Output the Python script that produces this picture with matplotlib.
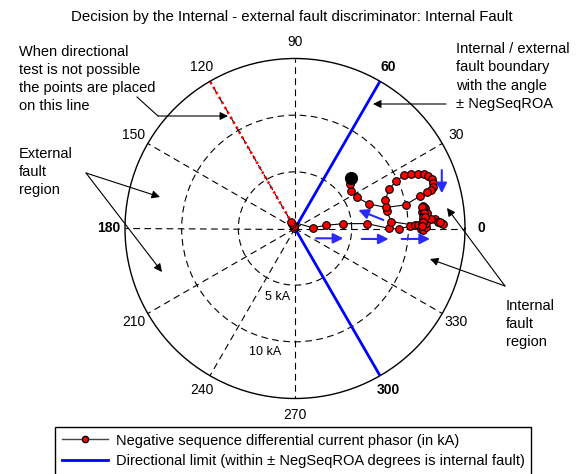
import numpy as np
import matplotlib
matplotlib.use("Agg")
import matplotlib.pyplot as plt
from matplotlib.lines import Line2D
from matplotlib.patches import FancyArrowPatch

plt.rcParams['font.family'] = ['Liberation Sans', 'DejaVu Sans']

W, H = 576, 474

# negative sequence differential current phasor: angle (deg), magnitude (kA)
phasor_angle = [120, 120, 120, 120,
                2.6, 5.9, 5.7, 3.9, 0.1, -0.3, 1.3, 1.7, 1.6,
                0.0, -0.5, 1.0, 2.0, 3.0, 4.0, 5.0, 6.0, 7.0, 8.0, 9.0, 10.0,
                7.5, 5.5, 3.5, 1.5, 0.5, 2.5, 4.5, 6.5, 8.5, 9.5, 7.0, 5.0, 3.0,
                3.9, 2.8, 2.1, 1.6, 2.5, 4.0, 5.0, 3.0, 1.0,
                4.1, 10.5, 17.3, 22.6, 25.1, 26.0, 24.9, 23.7, 22.7, 21.5,
                19.8, 18.3, 16.9, 16.0, 15.6, 14.5, 12.1, 13.0,
                18.3, 26.8, 34.0, 39.1, 41.6, 41.9, 41.3, 42.0]
phasor_mag = [0.1, 0.25, 0.5, 0.7,
              1.55, 2.78, 4.28, 6.35, 8.28, 9.22, 10.12, 10.57, 10.87,
              11.1, 11.3, 11.4, 11.2, 11.5, 11.3, 11.4, 11.5, 11.4, 11.5, 11.6, 11.5,
              11.3, 11.6, 11.4, 11.5, 11.6, 11.6, 11.6, 11.7, 11.4, 11.4, 11.5, 11.3, 11.3,
              12.38, 12.6, 12.9, 13.1, 12.8, 12.0, 11.5, 11.3, 11.2,
              8.5, 8.26, 8.35, 8.96, 9.86, 10.7, 11.32, 11.87, 12.37, 12.64,
              12.81, 12.87, 12.69, 12.45, 12.05, 11.37, 9.98, 8.25,
              6.89, 6.1, 5.99, 6.25, 6.65, 6.7, 6.6, 6.68]

rmax = 15
ring_radii = [5, 10]
limit_angles = [60, 300]
no_direction_angle = 120
angle_ticks = list(range(0, 360, 30))
bold_ticks = [0, 60, 180, 300]

# blue direction arrows: (start angle, start r, end angle, end r)
flow_arrows = [(335.0, 2.05, 348.5, 4.35),
               (351.1, 5.96, 353.6, 8.31),
               (354.4, 9.46, 355.6, 11.95),
               (5.5, 7.83, 16.3, 5.82),
               (21.7, 13.94, 13.5, 13.32)]


def fp(x, y):
    return (x / W, 1 - y / H)


fig = plt.figure(figsize=(W / 100, H / 100), dpi=100)
cx, cy, R = 295, 228.5, 170
ax = fig.add_axes([(cx - R) / W, (H - cy - R) / H, 2 * R / W, 2 * R / H], projection='polar')
ax.set_ylim(0, rmax)
ax.set_thetagrids(angle_ticks, labels=[''] * len(angle_ticks))
ax.set_rgrids(ring_radii, labels=[''] * len(ring_radii))
ax.grid(True, color='k', ls=(0, (6, 4)), lw=0.8)
ax.spines['polar'].set_linewidth(1.0)
ax.tick_params(length=0)

for a in angle_ticks:
    ax.text(np.deg2rad(a), 16.45, str(a), ha='center', va='center', fontsize=10,
            fontweight='bold' if a in bold_ticks else 'normal', clip_on=False)
ax.text(np.deg2rad(256), 6.2, '5 kA', ha='center', va='center', fontsize=9)
ax.text(np.deg2rad(256.3), 11.2, '10 kA', ha='center', va='center', fontsize=9)

for a in limit_angles:
    ax.plot([np.deg2rad(a)] * 2, [0, rmax], color='blue', lw=2, zorder=3)
ax.plot([np.deg2rad(no_direction_angle)] * 2, [0, rmax], color='red', lw=1.8,
        ls=(0, (1, 1.3)), zorder=3)

ax.plot(np.deg2rad(phasor_angle), phasor_mag, '-', color='k', lw=0.8, marker='o',
        mfc='red', mec='k', ms=5.5, mew=0.8, zorder=4)
# last phasor value is shown as a bigger black dot
ax.plot(np.deg2rad(phasor_angle[-1]), phasor_mag[-1], 'o', color='k', ms=8.5, zorder=5)

for a0, r0, a1, r1 in flow_arrows:
    ax.annotate('', xy=(np.deg2rad(a1), r1), xytext=(np.deg2rad(a0), r0),
                arrowprops=dict(arrowstyle='-|>', color='#2a2aff', lw=1.5,
                                mutation_scale=15, shrinkA=0, shrinkB=0), zorder=5)

fig.text(292 / W, 1 - 17 / H, 'Decision by the Internal - external fault discriminator: Internal Fault',
         ha='center', va='center', fontsize=10.8)

fig.text(*fp(19, 79), 'When directional\ntest is not possible\nthe points are placed\non this line',
         ha='left', va='center', fontsize=10.5, linespacing=1.38)
fig.text(*fp(19, 172), 'External\nfault\nregion', ha='left', va='center', fontsize=10.5,
         linespacing=1.38)
fig.text(*fp(456, 76.5), 'Internal / external\nfault boundary\nwith the angle\n\u00b1 NegSeqROA',
         ha='left', va='center', fontsize=10.5, linespacing=1.38)
fig.text(*fp(506, 324), 'Internal\nfault\nregion', ha='left', va='center', fontsize=10.5,
         linespacing=1.38)

black_arrow = dict(arrowstyle='-|>', color='k', lw=0.8, mutation_scale=12, shrinkA=0, shrinkB=0)
fig.add_artist(Line2D([137 / W, 158 / W], [1 - 97 / H, 1 - 116 / H], color='k', lw=0.8))
fig.add_artist(FancyArrowPatch(fp(158, 116), fp(228, 116), transform=fig.transFigure, **black_arrow))
for tgt in [(160, 197), (162, 272)]:
    fig.add_artist(FancyArrowPatch(fp(86, 173), fp(*tgt), transform=fig.transFigure, **black_arrow))
fig.add_artist(FancyArrowPatch(fp(446, 104), fp(373, 104), transform=fig.transFigure, **black_arrow))
for tgt in [(447, 208), (430, 259)]:
    fig.add_artist(FancyArrowPatch(fp(505, 286), fp(*tgt), transform=fig.transFigure, **black_arrow))

handles = [Line2D([], [], color='#444444', lw=1, marker='o', mfc='red', mec='k', ms=4.5),
           Line2D([], [], color='blue', lw=2)]
labels = ['Negative sequence differential current phasor (in kA)',
          'Directional limit (within \u00b1 NegSeqROA degrees is internal fault)']
fig.legend(handles, labels, loc='upper left', bbox_to_anchor=fp(55, 427), borderaxespad=0,
           fontsize=10.5, fancybox=False, edgecolor='k', framealpha=1, handlelength=3.2,
           handletextpad=0.5, labelspacing=0.45, borderpad=0.45, numpoints=1)

fig.savefig('out.png', dpi=100)
